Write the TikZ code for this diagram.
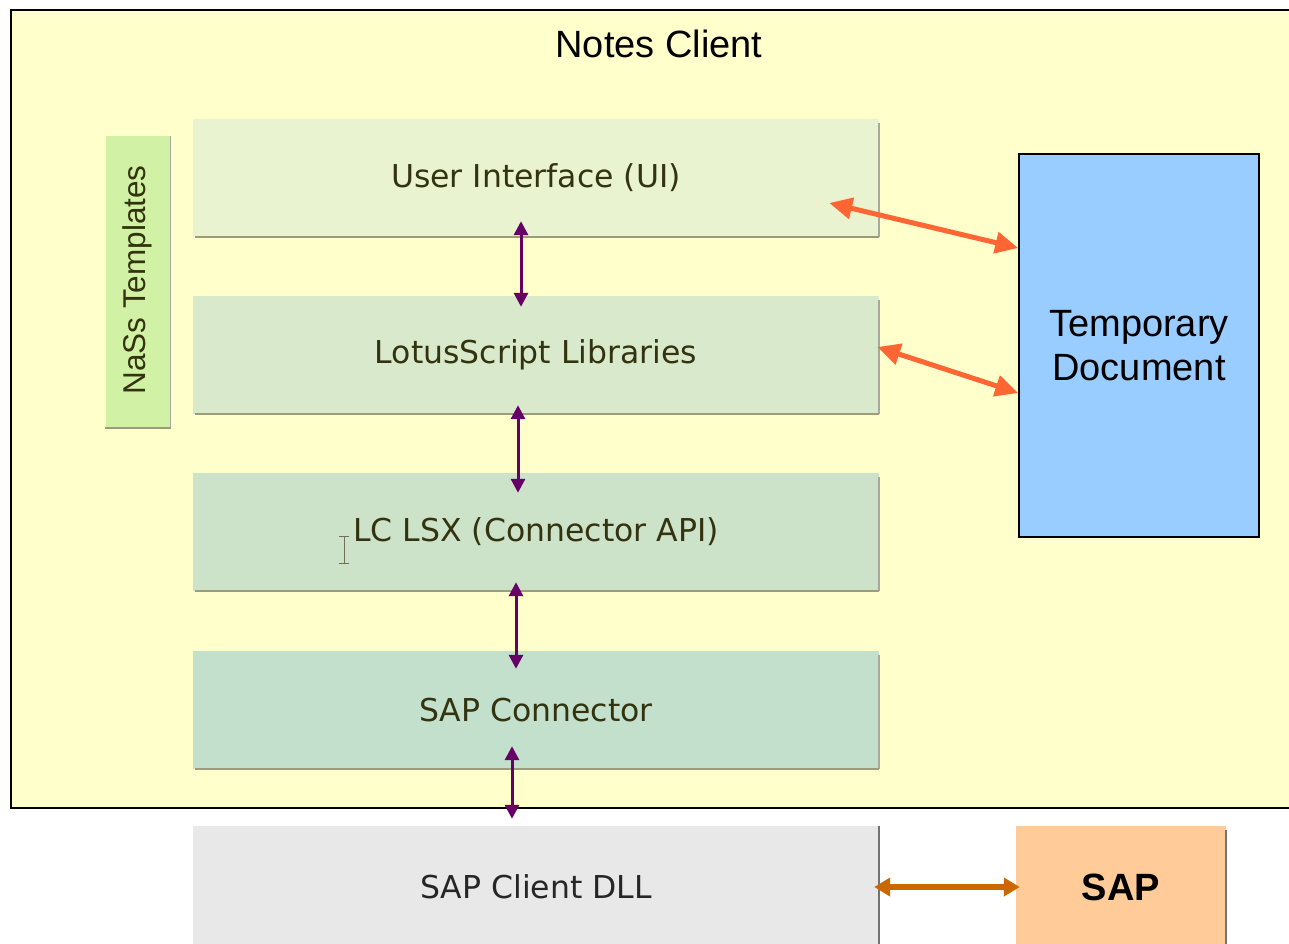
\documentclass[tikz,border=0pt]{standalone}
\usepackage{fontspec}
\setmainfont{Liberation Sans}
\newfontfamily\dvfont{DejaVu Sans}
\usetikzlibrary{arrows.meta}
\definecolor{bgyellow}{HTML}{FFFFCC}
\definecolor{uifill}{HTML}{E9F3CF}
\definecolor{lsfill}{HTML}{D9E9CC}
\definecolor{lcfill}{HTML}{CCE3CA}
\definecolor{scfill}{HTML}{C3E0CC}
\definecolor{nasfill}{HTML}{D1F2A5}
\definecolor{dllfill}{HTML}{E8E8E8}
\definecolor{sapfill}{HTML}{FFCC99}
\definecolor{tmpfill}{HTML}{99CCFF}
\definecolor{olivetext}{HTML}{33330F}
\definecolor{shadowline}{HTML}{9C9C7A}
\definecolor{sideline}{HTML}{A8A8A0}
\definecolor{purp}{HTML}{660066}
\definecolor{orng}{HTML}{FF6633}
\definecolor{brwn}{HTML}{CC6600}
\tikzset{
  layerbox/.style={draw=none, minimum width=686pt, minimum height=118pt, inner sep=0pt,
    text=olivetext, font=\dvfont\fontsize{31.5}{36}\selectfont},
  purparrow/.style={draw=purp, line width=3pt, {Triangle[width=14pt,length=14pt]}-{Triangle[width=14pt,length=14pt]}},
  orarrow/.style={draw=orng, line width=5pt, {Triangle[width=21pt,length=23pt]}-{Triangle[width=21pt,length=23pt]}},
  brarrow/.style={draw=brwn, line width=6.5pt, {Triangle[width=18pt,length=16pt]}-{Triangle[width=18pt,length=16pt]}},
  shadowb/.style={draw=shadowline, line width=2pt},
  shadowr/.style={draw=sideline, line width=1.5pt},
}
\begin{document}
\begin{tikzpicture}[x=1pt,y=-1pt]
\useasboundingbox (0,0) rectangle (1289,944);
\fill[white] (0,0) rectangle (1289,944);
% outer frame
\draw[fill=bgyellow, line width=1.5pt] (11,10) rectangle (1300,808);
\node[font=\fontsize{38}{42}\selectfont] (title) at (659,44) {Notes Client};

% NaSs templates
\node[fill=nasfill, minimum width=65pt, minimum height=292pt, inner sep=0pt] (nass) at (138,282) {};
\node[rotate=90, text=olivetext, font=\fontsize{31.5}{36}\selectfont] (nasst) at (137,280) {NaSs Templates};
\draw[shadowr] (nass.north east) -- (nass.south east);
\draw[shadowb] (nass.south west) -- (nass.south east);

% layer boxes
\node[layerbox, fill=uifill] (ui) at (536,178) {User Interface (UI)};
\node[layerbox, fill=lsfill] (ls) at (536,355) {LotusScript Libraries};
\node[layerbox, fill=lcfill] (lc) at (536,532) {LC LSX (Connector API)};
\node[layerbox, fill=scfill] (sc) at (536,710) {SAP Connector};
\foreach \n in {ui,ls,lc,sc}{
  \draw[shadowr] ([yshift=-4pt]\n.north east) -- (\n.south east);
  \draw[shadowb] ([xshift=2pt]\n.south west) -- (\n.south east);
}
% I-beam cursor
\draw[draw=olivetext!70, line width=1pt] (344,536) -- (344,563) (339,536) -- (349,536) (339,563) -- (349,563);

% lower boxes
\node[draw=none, fill=dllfill, minimum width=686pt, minimum height=122pt, inner sep=0pt,
  text=black!85, font=\dvfont\fontsize{31.5}{36}\selectfont] (dll) at (536,887) {SAP Client DLL};
\draw[draw=black!55, line width=1.5pt] (dll.north east) -- (dll.south east);
\node[draw=none, fill=sapfill, minimum width=210pt, minimum height=122pt, inner sep=0pt,
  font=\bfseries\fontsize{38}{42}\selectfont] (sap) at (1121,887) {SAP};
\draw[draw=black!55, line width=1.5pt] ([yshift=-4pt]sap.north east) -- (sap.south east);

% temporary document
\node[draw=black, line width=1.5pt, fill=tmpfill, minimum width=240pt, minimum height=383pt, inner sep=0pt,
  align=center, font=\fontsize{38}{44}\selectfont] (tmp) at (1139,345.5) {Temporary\\Document};

% purple arrows
\draw[purparrow] ([xshift=-15pt,yshift=16pt]ui.south) -- ([xshift=-15pt,yshift=-11pt]ls.north);
\draw[purparrow] ([xshift=-18pt,yshift=9pt]ls.south) -- ([xshift=-18pt,yshift=-20pt]lc.north);
\draw[purparrow] ([xshift=-20pt,yshift=9pt]lc.south) -- ([xshift=-20pt,yshift=-18pt]sc.north);
\draw[purparrow] ([xshift=-24pt,yshift=23pt]sc.south) -- ([xshift=-24pt,yshift=7pt]dll.north);

% orange arrows
\draw[orarrow] ([xshift=-50pt,yshift=-25pt]ui.east) -- ([yshift=97.5pt]tmp.west);
\draw[orarrow] ([xshift=-2pt,yshift=8pt]ls.east) -- ([yshift=-47.5pt]tmp.west);

% brown arrow
\draw[brarrow] ([xshift=-5pt]dll.east) -- ([xshift=4pt]sap.west);
\end{tikzpicture}
\end{document}
